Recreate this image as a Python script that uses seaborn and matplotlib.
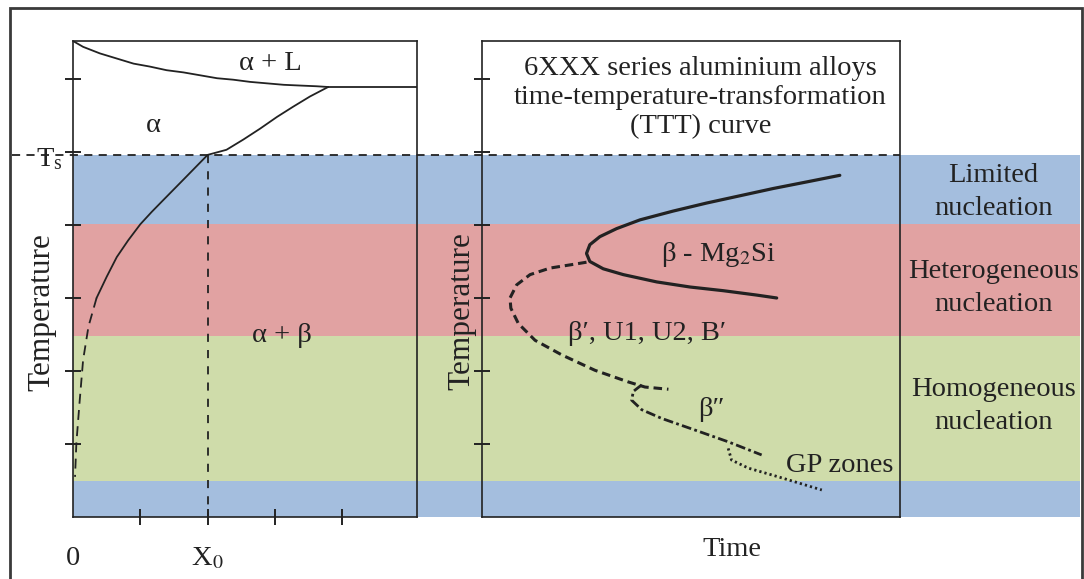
import numpy as np
import pandas as pd
import seaborn as sns
import matplotlib.pyplot as plt
from matplotlib.patches import Rectangle

# temperature bands (same temperature units on both panels, tick spacing = 1)
band_low = [0.0, 0.49, 2.48, 4.01]
band_high = [0.49, 2.48, 4.01, 4.96]
band_colors = ['#a4bede', '#cfdcaa', '#e1a2a2', '#a4bede']
band_names = ['Limited\nnucleation', 'Heterogeneous\nnucleation', 'Homogeneous\nnucleation']
band_label_y = [4.45, 3.14, 1.52]

t_s = 4.96
x_0 = 2.0

# left panel: phase diagram
liq_x = [0.0, 0.15, 0.40, 0.65, 0.90, 1.14, 1.39, 1.64, 1.89, 2.14, 2.38, 2.63,
         2.88, 3.13, 3.37, 3.62, 3.79]
liq_y = [6.52, 6.44, 6.35, 6.28, 6.21, 6.17, 6.12, 6.09, 6.05, 6.01, 5.99, 5.96,
         5.94, 5.92, 5.91, 5.90, 5.89]
flat_x = [3.79, 5.11]
flat_y = [5.89, 5.89]
solvus_x = [3.79, 3.52, 3.27, 3.03, 2.78, 2.53, 2.28, 2.00, 1.66, 1.34, 1.17,
            1.00, 0.82, 0.65, 0.50, 0.35]
solvus_y = [5.89, 5.76, 5.62, 5.48, 5.32, 5.17, 5.03, 4.96, 4.64, 4.34, 4.18,
            4.01, 3.79, 3.56, 3.29, 3.00]
solvus_low_x = [0.35, 0.23, 0.15, 0.10, 0.05, 0.03]
solvus_low_y = [3.00, 2.61, 2.15, 1.60, 1.01, 0.55]

# right panel: TTT curves
beta_x = [8.56, 7.77, 6.97, 6.17, 5.37, 4.57, 3.78, 3.22, 2.82, 2.58, 2.50,
          2.58, 2.90, 3.38, 4.18, 4.98, 5.77, 6.57, 7.05]
beta_y = [4.68, 4.59, 4.50, 4.40, 4.30, 4.19, 4.07, 3.95, 3.84, 3.73, 3.61,
          3.50, 3.40, 3.32, 3.22, 3.15, 3.10, 3.04, 3.00]
beta1_x = [2.50, 2.18, 1.63, 1.15, 0.83, 0.67, 0.69, 0.87, 1.27, 1.91, 2.70,
           3.50, 3.90, 4.46]
beta1_y = [3.49, 3.46, 3.41, 3.32, 3.18, 3.00, 2.86, 2.65, 2.42, 2.22, 2.01,
           1.85, 1.78, 1.75]
beta2_x = [3.82, 3.62, 3.58, 3.82, 4.30, 5.10, 5.89, 6.69]
beta2_y = [1.81, 1.72, 1.60, 1.47, 1.35, 1.19, 1.03, 0.85]
gp_x = [5.89, 5.97, 6.37, 7.09, 8.13]
gp_y = [0.94, 0.78, 0.67, 0.55, 0.37]

sns.set_theme(style='white')
plt.rcParams['font.family'] = ['Liberation Serif', 'DejaVu Serif']
plt.rcParams['mathtext.fontset'] = 'stix'
ink = '#222222'
fs = 20.5
fs_lab = 22.5

fig = plt.figure(figsize=(10.84, 5.79), dpi=100)
bot, h = 62 / 579, 476 / 579
ax_bg = fig.add_axes([73 / 1084, bot, 1007 / 1084, h])
ax_l = fig.add_axes([73 / 1084, bot, 344 / 1084, h])
ax_r = fig.add_axes([482 / 1084, bot, 418 / 1084, h])

# background bands + labels
ax_bg.set_xlim(0, 1)
ax_bg.set_ylim(0, 6.52)
ax_bg.axis('off')
for lo, hi, c in zip(band_low, band_high, band_colors):
    ax_bg.axhspan(lo, hi, color=c, lw=0)
for name, yy in zip(band_names, band_label_y):
    ax_bg.text(0.914, yy, name, ha='center', va='center', fontsize=fs,
               color=ink, linespacing=1.42)
ax_bg.plot([-0.061, 0.821], [t_s, t_s], color=ink, lw=1.3, ls=(0, (4.5, 3.5)),
           clip_on=False)

# outer frame
fig.patches.append(Rectangle((10 / 1084, -0.1), 1072 / 1084, 1.1 - 8 / 579,
                             transform=fig.transFigure, fill=False,
                             ec='#3a3a3a', lw=2))

for ax in (ax_l, ax_r):
    ax.set_facecolor('none')
    ax.set_ylim(0, 6.52)
    for s in ax.spines.values():
        s.set_color(ink)
        s.set_linewidth(1.2)

# left panel
ax_l.set_xlim(0, 5.11)
sns.lineplot(x=liq_x, y=liq_y, sort=False, estimator=None, ax=ax_l, color=ink, lw=1.3)
sns.lineplot(x=flat_x, y=flat_y, sort=False, estimator=None, ax=ax_l, color=ink, lw=1.3)
sns.lineplot(x=solvus_x, y=solvus_y, sort=False, estimator=None, ax=ax_l, color=ink, lw=1.3)
sns.lineplot(x=solvus_low_x, y=solvus_low_y, sort=False, estimator=None, ax=ax_l,
             color=ink, lw=1.3)
ax_l.lines[-1].set_dashes([5.5, 3.5])
sns.lineplot(x=[x_0, x_0], y=[t_s, 0], sort=False, estimator=None, ax=ax_l,
             color=ink, lw=1.3)
ax_l.lines[-1].set_dashes([4.5, 4.5])
ax_l.text(2.93, 6.21, 'α + L', ha='center', va='center', fontsize=fs, color=ink)
ax_l.text(1.19, 5.36, 'α', ha='center', va='center', fontsize=fs, color=ink)
ax_l.text(3.11, 2.49, 'α + β', ha='center', va='center', fontsize=fs, color=ink)
ax_l.text(-0.35, t_s - 0.07, r'T$_\mathregular{s}$', ha='center', va='center',
          fontsize=fs, color=ink, clip_on=False)

# right panel
ax_r.set_xlim(0, 10)
sns.lineplot(x=beta_x, y=beta_y, sort=False, estimator=None, ax=ax_r, color=ink, lw=2.3)
sns.lineplot(x=beta1_x, y=beta1_y, sort=False, estimator=None, ax=ax_r, color=ink, lw=2.2)
ax_r.lines[-1].set_dashes([2.8, 1.6])
sns.lineplot(x=beta2_x, y=beta2_y, sort=False, estimator=None, ax=ax_r, color=ink, lw=2.0)
ax_r.lines[-1].set_dashes([3.5, 1.2, 1.0, 1.2])
sns.lineplot(x=gp_x, y=gp_y, sort=False, estimator=None, ax=ax_r, color=ink, lw=2.0)
ax_r.lines[-1].set_dashes([0.8, 1.1])
ax_r.text(5.22, 5.75, '6XXX series aluminium alloys\ntime-temperature-transformation\n(TTT) curve',
          ha='center', va='center', fontsize=fs, color=ink, linespacing=1.21)
ax_r.text(5.65, 3.59, r'β - Mg$_2$Si', ha='center', va='center', fontsize=fs, color=ink)
ax_r.text(3.94, 2.52, 'β′, U1, U2, B′', ha='center', va='center', fontsize=fs, color=ink)
ax_r.text(5.49, 1.47, 'β″', ha='center', va='center', fontsize=fs, color=ink)
ax_r.text(8.56, 0.70, 'GP zones', ha='center', va='center', fontsize=fs, color=ink)

# ticks and axis labels (after seaborn, which hides labels of tickless axes)
for ax in (ax_l, ax_r):
    ax.set_yticks([1, 2, 3, 4, 5, 6])
    ax.set_yticklabels([])
    ax.tick_params(axis='y', direction='inout', length=12, width=1.4,
                   color=ink, left=True)
ax_l.set_xticks([0, 1, 2, 3, 4])
ax_l.set_xticklabels(['0', '', 'X$_0$', '', ''], fontsize=fs, color=ink)
ax_l.tick_params(axis='x', direction='inout', length=12, width=1.4, color=ink,
                 bottom=True, pad=15)
ax_l.xaxis.get_major_ticks()[0].tick1line.set_visible(False)
ax_l.set_xlabel('')
ax_l.set_ylabel('Temperature', fontsize=fs_lab, color=ink, visible=True)
ax_l.yaxis.set_label_coords(-0.049, 0.43)

ax_r.set_xticks([])
ax_r.set_xlabel('Time', fontsize=fs, color=ink, visible=True)
ax_r.xaxis.set_label_coords(0.598, -0.042)
ax_r.set_ylabel('Temperature', fontsize=fs_lab, color=ink, visible=True)
ax_r.yaxis.set_label_coords(-0.0144, 0.433)

fig.savefig('out.png', dpi=100)
